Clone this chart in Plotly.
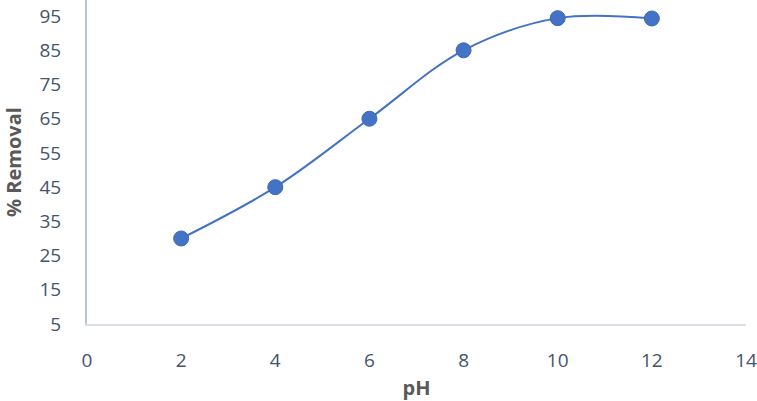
import plotly.graph_objects as go

ph = [2, 4, 6, 8, 10, 12]
removal = [30, 45, 65, 85, 94.4, 94.3]
x_ticks = [0, 2, 4, 6, 8, 10, 12, 14]
y_ticks = [5, 15, 25, 35, 45, 55, 65, 75, 85, 95]

fig = go.Figure()
fig.add_trace(go.Scatter(
    x=ph, y=removal, mode="lines+markers",
    line=dict(color="#4472c4", width=2, shape="spline", smoothing=1),
    marker=dict(color="#4472c4", size=15, line=dict(color="#3c68b8", width=1)),
    showlegend=False, cliponaxis=False,
))

font_family = "Open Sans, Noto Sans, sans-serif"
fig.update_layout(
    width=757, height=401,
    margin=dict(l=87, r=11, t=0, b=77, autoexpand=False),
    plot_bgcolor="white", paper_bgcolor="white",
    font=dict(family=font_family, color="#44546a", size=19),
    xaxis=dict(
        range=[0, 14], tickvals=x_ticks, showgrid=False, zeroline=False,
        showline=True, linecolor="#d9dde5", linewidth=2,
        ticks="", ticklabelstandoff=18,
        tickfont=dict(size=19, color="#44546a"),
        title=dict(text="<b>pH</b>", font=dict(size=20, color="#595959"), standoff=14),
    ),
    yaxis=dict(
        range=[5, 99.7], tickvals=y_ticks, showgrid=False, zeroline=False,
        showline=True, linecolor="#b8c3d9", linewidth=2,
        ticks="", ticklabelstandoff=20,
        tickfont=dict(size=19, color="#44546a"),
        title=dict(text="<b>% Removal</b>", font=dict(size=20, color="#595959"), standoff=14),
    ),
)

fig.write_html(
    "out.html",
    config={"displayModeBar": False},
    post_script="document.body.style.margin='0';document.body.style.overflow='hidden';",
)
